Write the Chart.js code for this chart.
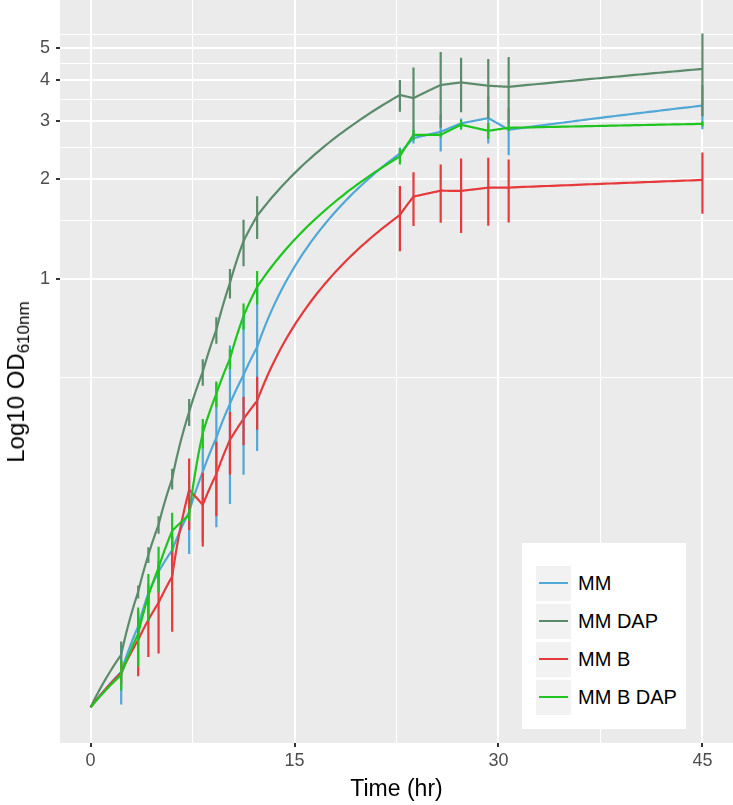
<!DOCTYPE html>
<html>
<head>
<meta charset="utf-8">
<script src="https://cdn.jsdelivr.net/npm/chart.js@4.4.1/dist/chart.umd.min.js"></script>
<style>
  body { margin: 0; background: #fff; }
  #wrap { position: relative; width: 733px; height: 805px; font-family: "Liberation Sans", Arial, Helvetica, sans-serif; }
  #ytitle { position: absolute; left: 16px; top: 382px; transform: translate(-50%, -50%) rotate(-90deg); white-space: nowrap; font-size: 24px; color: #000; }
  #ytitle sub { font-size: 17px; vertical-align: -5px; line-height: 0; }
  #legend { position: absolute; left: 522px; top: 543px; width: 164px; height: 186px; background: #fff; box-sizing: border-box; padding: 23px 0 0 14px; }
  .row { display: flex; align-items: center; height: 35px; margin-bottom: 3px; }
  .key { width: 35px; height: 35px; background: #F2F2F2; position: relative; }
  .key span { position: absolute; left: 3px; right: 3px; top: 16px; height: 2px; }
  .lab { margin-left: 7px; font-size: 20px; color: #000; }
</style>
</head>
<body>
<div id="wrap">
  <canvas id="chart" width="733" height="805"></canvas>
  <div id="ytitle">Log10 OD<sub>610nm</sub></div>
  <div id="legend"></div>
</div>
<script>
// sampling times (hr)
const times = [0, 2.25, 3.5, 4.25, 5, 6, 7.25, 8.25, 9.25, 10.25, 11.25, 12.25, 22.75, 23.75, 25.75, 27.25, 29.25, 30.75, 45];

// mean OD610 per series
const mm      = [0.05, 0.064, 0.088, 0.111, 0.129, 0.150, 0.196, 0.259, 0.329, 0.417, 0.51, 0.62, 2.40, 2.67, 2.79, 2.96, 3.07, 2.83, 3.35];
const mmDap   = [0.05, 0.0722, 0.112, 0.145, 0.179, 0.247, 0.394, 0.521, 0.699, 0.97, 1.30, 1.55, 3.61, 3.53, 3.87, 3.94, 3.85, 3.82, 4.33];
const mmB     = [0.05, 0.0637, 0.0801, 0.0921, 0.1038, 0.1247, 0.2285, 0.2057, 0.255, 0.324, 0.375, 0.4255, 1.56, 1.774, 1.849, 1.846, 1.888, 1.89, 1.993];
const mmBDap  = [0.05, 0.0628, 0.0835, 0.109, 0.1325, 0.1716, 0.192, 0.340, 0.447, 0.571, 0.77, 0.944, 2.35, 2.73, 2.73, 2.93, 2.81, 2.87, 2.95];

// standard deviations (error bars)
const mmSd     = [0, 0.013, 0.006, 0.008, 0.01, 0.02, 0.05, 0.1, 0.153, 0.21, 0.256, 0.32, 0.1, 0.1, 0.36, 0.1, 0.5, 0.46, 0.51];
const mmDapSd  = [0, 0.007, 0.005, 0.008, 0.011, 0.018, 0.037, 0.048, 0.065, 0.10, 0.21, 0.23, 0.40, 0.84, 1.0, 0.74, 0.79, 0.89, 1.22];
const mmBSd    = [0, 0.005, 0.018, 0.021, 0.031, 0.040, 0.056, 0.052, 0.065, 0.07, 0.063, 0.078, 0.35, 0.33, 0.37, 0.47, 0.44, 0.41, 0.42];
const mmBDapSd = [0, 0.0066, 0.017, 0.018, 0.021, 0.023, 0.008, 0.035, 0.04, 0.04, 0.07, 0.11, 0.13, 0.1, 0.05, 0.1, 0.15, 0.06, 0.05];

const seriesNames = ["MM", "MM DAP", "MM B", "MM B DAP"];
const seriesColors = ["#4FA8D6", "#5B8B6B", "#E5393B", "#1EC51E"];
const seriesValues = [mm, mmDap, mmB, mmBDap];
const seriesSds = [mmSd, mmDapSd, mmBSd, mmBDapSd];

// axis ticks
const xGrid = [0, 7.5, 15, 22.5, 30, 37.5, 45];
const xTickLabels = [0, 15, 30, 45];
const yGrid = [0.5, 1, 1.5, 2, 2.5, 3, 3.5, 4, 4.5, 5, 5.5];
const yTickLabels = [1, 2, 3, 4, 5];

const FONT = "'Liberation Sans', Arial, Helvetica, sans-serif";

const datasets = [];
// error bars: one broken line per series
seriesNames.forEach((name, i) => {
  const pts = [];
  times.forEach((t, j) => {
    const sd = seriesSds[i][j];
    if (!sd) return;
    pts.push({ x: t, y: seriesValues[i][j] - sd }, { x: t, y: seriesValues[i][j] + sd }, { x: t, y: null });
  });
  datasets.push({
    label: name + " sd",
    data: pts,
    borderColor: seriesColors[i],
    borderWidth: 2.2,
    pointRadius: 0,
    spanGaps: false,
    order: 4 - i,
  });
});
// mean series (path drawn by the plugin below)
seriesNames.forEach((name, i) => {
  datasets.push({
    label: name,
    isSeries: true,
    data: times.map((t, j) => ({ x: t, y: seriesValues[i][j] })),
    borderColor: seriesColors[i],
    showLine: false,
    pointRadius: 0,
    order: 10,
  });
});

// panel background
const panelBg = {
  id: "panelBg",
  beforeDraw(chart) {
    const { ctx, chartArea: a } = chart;
    ctx.save();
    ctx.fillStyle = "#EBEBEB";
    ctx.fillRect(a.left, a.top, a.right - a.left, a.bottom - a.top);
    ctx.restore();
  },
};

// straight segments in data space, shown on the log axis (like coord_trans)
const transLines = {
  id: "transLines",
  beforeDatasetsDraw(chart) {
    const { ctx, chartArea: a, scales: { x, y } } = chart;
    ctx.save();
    ctx.beginPath();
    ctx.rect(a.left, a.top, a.right - a.left, a.bottom - a.top);
    ctx.clip();
    chart.data.datasets.filter(d => d.isSeries).forEach(ds => {
      const p = ds.data;
      ctx.beginPath();
      ctx.strokeStyle = ds.borderColor;
      ctx.lineWidth = 2.2;
      ctx.lineJoin = "round";
      ctx.moveTo(x.getPixelForValue(p[0].x), y.getPixelForValue(p[0].y));
      for (let i = 1; i < p.length; i++) {
        const steps = 40;
        for (let k = 1; k <= steps; k++) {
          const f = k / steps;
          ctx.lineTo(
            x.getPixelForValue(p[i - 1].x + (p[i].x - p[i - 1].x) * f),
            y.getPixelForValue(p[i - 1].y + (p[i].y - p[i - 1].y) * f)
          );
        }
      }
      ctx.stroke();
    });
    ctx.restore();
  },
};

const isMajorX = v => xTickLabels.includes(v);
const isMajorY = v => yTickLabels.includes(v);

new Chart(document.getElementById("chart"), {
  type: "line",
  data: { datasets },
  options: {
    responsive: false,
    animation: false,
    devicePixelRatio: 1,
    layout: { padding: 0 },
    plugins: { legend: { display: false }, tooltip: { enabled: false } },
    events: [],
    scales: {
      x: {
        type: "linear",
        min: -2.25,
        max: 47.25,
        afterBuildTicks: s => { s.ticks = xGrid.map(v => ({ value: v })); },
        afterFit: s => { s.height = 62; },
        ticks: {
          autoSkip: false,
          maxRotation: 0,
          padding: 3,
          color: "#4D4D4D",
          font: { size: 18, family: FONT },
          callback: v => (isMajorX(v) ? String(v) : ""),
        },
        grid: {
          color: "#FFFFFF",
          lineWidth: c => (isMajorX(c.tick.value) ? 2 : 1),
          tickLength: 4,
          tickColor: c => (isMajorX(c.tick.value) ? "#333333" : "rgba(0,0,0,0)"),
          tickWidth: 2,
        },
        border: { display: false },
        title: {
          display: true,
          text: "Time (hr)",
          color: "#000",
          font: { size: 23, family: FONT },
          padding: { top: 0, bottom: 2 },
        },
      },
      y: {
        type: "logarithmic",
        min: 0.03895,
        max: 7.01,
        afterBuildTicks: s => { s.ticks = yGrid.map(v => ({ value: v })); },
        afterFit: s => { s.width = 60; s.paddingTop = 0; s.paddingBottom = 0; },
        ticks: {
          autoSkip: false,
          padding: 6,
          color: "#4D4D4D",
          font: { size: 18, family: FONT },
          callback: v => (isMajorY(v) ? String(v) : ""),
        },
        grid: {
          color: "#FFFFFF",
          lineWidth: c => (isMajorY(c.tick.value) ? 2 : 1),
          tickLength: 4,
          tickColor: c => (isMajorY(c.tick.value) ? "#333333" : "rgba(0,0,0,0)"),
          tickWidth: 2,
        },
        border: { display: false },
      },
    },
  },
  plugins: [panelBg, transLines],
});

// legend
const $legend = document.getElementById("legend");
seriesNames.forEach((name, i) => {
  const row = document.createElement("div");
  row.className = "row";
  row.innerHTML = `<div class="key"><span style="background:${seriesColors[i]}"></span></div><div class="lab">${name}</div>`;
  $legend.appendChild(row);
});
</script>
</body>
</html>
